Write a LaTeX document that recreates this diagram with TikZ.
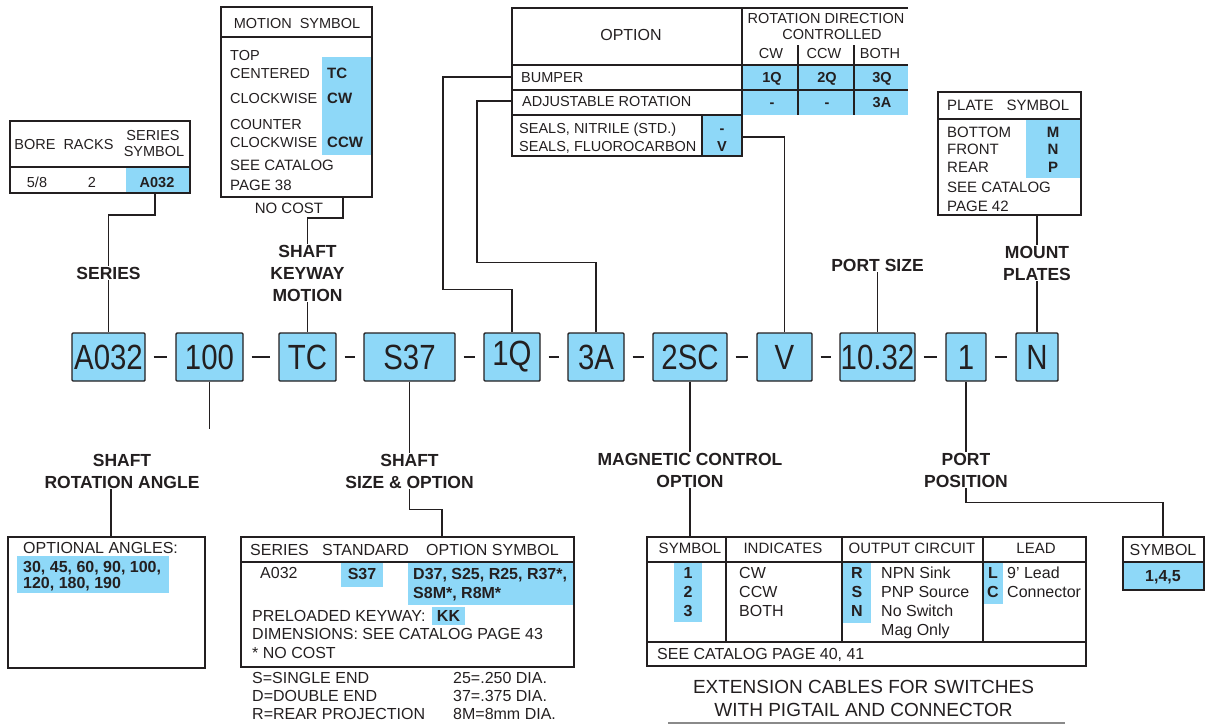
\documentclass[tikz,border=0pt]{standalone}
\usepackage{fontspec}
\setmainfont{Liberation Sans}
\newfontfamily\narrowfont{Liberation Sans}[FakeStretch=0.84]
\usetikzlibrary{positioning,calc}
\definecolor{ink}{HTML}{231F20}
\definecolor{sky}{HTML}{8ED8F8}
\definecolor{rulegray}{HTML}{8A8A8A}
\tikzset{codebox/.style={draw=ink,fill=sky,line width=1.4pt,rounded corners=1pt,inner sep=0pt,minimum height=48pt,text=ink,font=\narrowfont\fontsize{35}{35}\selectfont},
  joiner/.style={draw=ink,line width=1.6pt,shorten <=8pt,shorten >=8pt},
  leader/.style={draw=ink,line width=1.1pt},
  tabframe/.style={draw=ink,line width=1.3pt},
  partlabel/.style={text=ink,align=center,inner sep=1pt,font=\bfseries\fontsize{17.5}{22}\selectfont},
  t14/.style={text=ink,inner sep=0pt,text height=10pt,text depth=0pt,font=\fontsize{14.5}{17}\selectfont},
  b14/.style={t14,font=\bfseries\fontsize{14.5}{17}\selectfont},
  t15/.style={text=ink,inner sep=0pt,text height=11pt,text depth=0pt,font=\fontsize{15}{18}\selectfont},
  b15/.style={t15,font=\bfseries\fontsize{15}{18}\selectfont},
  t16/.style={text=ink,inner sep=0pt,text height=11.5pt,text depth=0pt,font=\fontsize{16}{19}\selectfont},
  b16/.style={t16,font=\bfseries\fontsize{16}{19}\selectfont}}
\begin{document}
\begin{tikzpicture}[x=1pt,y=-1pt]
\useasboundingbox (0,0) rectangle (1208,724);
% model code
\node[codebox,minimum width=73pt] (kA) at (108.5,357) {A032};
\node[codebox,minimum width=67pt] (k100) at (209.5,357) {100};
\node[codebox,minimum width=57pt] (kTC) at (307.5,357) {TC};
\node[codebox,minimum width=91pt] (kS) at (409.5,357) {S37};
\node[codebox,minimum width=56pt] (k1Q) at (512,357) {1Q};
\node[codebox,minimum width=56pt] (k3A) at (596,357) {3A};
\node[codebox,minimum width=74pt] (k2SC) at (690,357) {2SC};
\node[codebox,minimum width=55pt] (kV) at (784.5,357) {V};
\node[codebox,minimum width=75pt] (kP) at (877.5,357) {10.32};
\node[codebox,minimum width=40pt] (k1) at (966,357) {1};
\node[codebox,minimum width=42pt] (kN) at (1037,357) {N};
\draw[joiner] (kA) -- (k100);
\draw[joiner] (k100) -- (kTC);
\draw[joiner] (kTC) -- (kS);
\draw[joiner] (kS) -- (k1Q);
\draw[joiner] (k1Q) -- (k3A);
\draw[joiner] (k3A) -- (k2SC);
\draw[joiner] (k2SC) -- (kV);
\draw[joiner] (kV) -- (kP);
\draw[joiner] (kP) -- (k1);
\draw[joiner] (k1) -- (kN);
% labels
\node[partlabel] (lSeries) at (108.5,273) {SERIES};
\node[partlabel] (lKey) at (307.5,273) {SHAFT\\KEYWAY\\MOTION};
\node[partlabel] (lPort) at (877.5,265) {PORT SIZE};
\node[partlabel] (lMount) at (1037,263) {MOUNT\\PLATES};
\node[partlabel] (lRot) at (122,471) {SHAFT\\ROTATION ANGLE};
\node[partlabel] (lSize) at (409.5,471) {SHAFT\\SIZE \& OPTION};
\node[partlabel] (lMag) at (690,470) {MAGNETIC CONTROL\\OPTION};
\node[partlabel] (lPos) at (966,470) {PORT\\POSITION};

% series table
\fill[sky] (126,167) rectangle (190,193);
\draw[tabframe] (10,121) rectangle (190,193);
\draw[tabframe] (10,167) -- (190,167);
\node[t14] at (35,144) {BORE};
\node[t14] at (88.5,144) {RACKS};
\node[t14] at (153,135) {SERIES};
\node[t14] at (154,151) {SYMBOL};
\node[t14] at (37,182) {5/8};
\node[t14] at (92,182) {2};
\node[b14] at (157,182) {A032};
\coordinate (serOut) at (155,193);

% motion table
\fill[sky] (322,57) rectangle (372,155);
\draw[tabframe] (221,7) rectangle (372,197);
\draw[tabframe] (221,37) -- (372,37);
\node[t14] at (297,23) {MOTION\hspace{8pt}SYMBOL};
\node[t14,anchor=west] at (230,55) {TOP};
\node[t14,anchor=west] at (230,73) {CENTERED};
\node[t14,anchor=west] at (230,98) {CLOCKWISE};
\node[t14,anchor=west] at (230,124) {COUNTER};
\node[t14,anchor=west] at (230,142) {CLOCKWISE};
\node[t15,anchor=west] at (230,165) {SEE CATALOG};
\node[t15,anchor=west] at (230,185) {PAGE 38};
\node[b15,anchor=west] at (327,73) {TC};
\node[b15,anchor=west] at (327,98) {CW};
\node[b15,anchor=west] at (327,142) {CCW};
\node[t15] at (289,208) {NO COST};
\coordinate (motOut) at (343,197);

% option table
\fill[sky] (742,65) rectangle (908,115);
\fill[sky] (702,115) rectangle (742,156);
\draw[tabframe] (908,8) -- (512,8) -- (512,156) -- (742,156) -- (742,8);
\draw[tabframe] (512,65) -- (908,65);
\draw[tabframe] (512,90) -- (908,90);
\draw[tabframe] (512,115) -- (742,115);
\draw[tabframe] (702,115) -- (702,156);
\draw[tabframe] (798,45) -- (798,115);
\draw[tabframe] (854,45) -- (854,115);
\node[t16] at (631,35) {OPTION};
\node[t14] at (826,18) {ROTATION DIRECTION};
\node[t14] at (832,34) {CONTROLLED};
\node[t14] at (771,53) {CW};
\node[t14] at (824,53) {CCW};
\node[t14] at (880,53) {BOTH};
\node[t14,anchor=west] (bumper) at (521,77) {BUMPER};
\node[t14,anchor=west] (adjust) at (522,101) {ADJUSTABLE ROTATION};
\node[b14] at (772,77) {1Q};
\node[b14] at (827,77) {2Q};
\node[b14] at (882,77) {3Q};
\node[b14] at (772,102) {-};
\node[b14] at (827,102) {-};
\node[b14] at (882,102) {3A};
\node[t14,anchor=west] at (519,128) {SEALS, NITRILE (STD.)};
\node[t14,anchor=west] at (519,146) {SEALS, FLUOROCARBON};
\node[b14] at (722,128) {-};
\node[b14] at (722,146) {V};
\coordinate (bumpIn) at (512,77);
\coordinate (adjIn) at (512,101);
\coordinate (sealOut) at (742,137);

% plate table
\fill[sky] (1026,120) rectangle (1081,178);
\draw[tabframe] (938,92) rectangle (1081,215);
\draw[tabframe] (938,119) -- (1081,119);
\node[t15,anchor=west] at (947,105) {PLATE\hspace{13pt}SYMBOL};
\node[t15,anchor=west] at (947,132) {BOTTOM};
\node[t15,anchor=west] at (947,149) {FRONT};
\node[t15,anchor=west] at (947,167) {REAR};
\node[t15,anchor=west] at (947,187) {SEE CATALOG};
\node[t15,anchor=west] at (947,206) {PAGE 42};
\node[b15] at (1053,132) {M};
\node[b15] at (1053,149) {N};
\node[b15] at (1053,167) {P};
\coordinate (plOut) at (1037,215);

% rotation angle table
\fill[sky] (17,556) rectangle (169,593);
\draw[tabframe] (8,537) rectangle (205,668);
\node[t16,anchor=west] at (23,548) {OPTIONAL ANGLES:};
\node[b16,anchor=west] at (23,567) {30, 45, 60, 90, 100,};
\node[b16,anchor=west] at (23,583) {120, 180, 190};
\coordinate (rotIn) at (111,537);

% shaft size table
\fill[sky] (341,562) rectangle (383,587);
\fill[sky] (408,562) rectangle (573,605);
\fill[sky] (432,607) rectangle (465,625);
\draw[tabframe] (241,537) rectangle (574,667);
\draw[tabframe] (241,562) -- (574,562);
\node[t16,anchor=west] at (250,550) {SERIES};
\node[t16,anchor=west] at (322,550) {STANDARD};
\node[t16,anchor=west] at (426,550) {OPTION SYMBOL};
\node[t16,anchor=west] at (260,573) {A032};
\node[b16] at (362,574) {S37};
\node[b16,anchor=west] at (413,574) {D37, S25, R25, R37*,};
\node[b16,anchor=west] at (413,593) {S8M*, R8M*};
\node[t16,anchor=west] at (252,616) {PRELOADED KEYWAY:};
\node[b16] at (448.5,616) {KK};
\node[t16,anchor=west] at (252,634) {DIMENSIONS: SEE CATALOG PAGE 43};
\node[t16,anchor=west] at (252,653) {* NO COST};
\node[t16,anchor=west] at (252,678) {S=SINGLE END};
\node[t16,anchor=west] at (252,696) {D=DOUBLE END};
\node[t16,anchor=west] at (252,714) {R=REAR PROJECTION};
\node[t16,anchor=west] at (453,678) {25=.250 DIA.};
\node[t16,anchor=west] at (453,696) {37=.375 DIA.};
\node[t16,anchor=west] at (453,714) {8M=8mm DIA.};
\coordinate (sizeIn) at (442,537);

% magnetic control table
\fill[sky] (674,562) rectangle (702,622);
\fill[sky] (843,562) rectangle (871,623);
\fill[sky] (984,562) rectangle (1003,604);
\draw[tabframe] (647,537) rectangle (1086,666);
\draw[tabframe] (647,562) -- (1086,562);
\draw[tabframe] (647,642) -- (1086,642);
\draw[tabframe] (726,537) -- (726,642);
\draw[tabframe] (842,537) -- (842,642);
\draw[tabframe] (983,537) -- (983,642);
\node[t15] at (690,548) {SYMBOL};
\node[t15] at (783,548) {INDICATES};
\node[t15] at (912,548) {OUTPUT CIRCUIT};
\node[t15] at (1036,548) {LEAD};
\node[b16] at (688,573) {1};
\node[b16] at (688,592) {2};
\node[b16] at (688,611) {3};
\node[t16,anchor=west] at (739,573) {CW};
\node[t16,anchor=west] at (739,592) {CCW};
\node[t16,anchor=west] at (739,611) {BOTH};
\node[b16] at (857,573) {R};
\node[b16] at (857,592) {S};
\node[b16] at (857,611) {N};
\node[t16,anchor=west] at (881,573) {NPN Sink};
\node[t16,anchor=west] at (881,592) {PNP Source};
\node[t16,anchor=west] at (881,611) {No Switch};
\node[t16,anchor=west] at (881,630) {Mag Only};
\node[b16] at (993,573) {L};
\node[b16] at (993,592) {C};
\node[t16,anchor=west] at (1007,573) {9' Lead};
\node[t16,anchor=west] at (1007,592) {Connector};
\node[t16,anchor=west] at (657,654) {SEE CATALOG PAGE 40, 41};
\node[text=ink,inner sep=0pt,font=\fontsize{19}{23}\selectfont,align=center] (extnote) at (863.5,698.5) {EXTENSION CABLES FOR SWITCHES\\WITH PIGTAIL AND CONNECTOR};
\draw[rulegray,line width=1.5pt] (668,723) -- (1065,723);
\coordinate (magIn) at (690,537);

% port position table
\fill[sky] (1123,562) rectangle (1204,590);
\draw[tabframe] (1123,537) rectangle (1204,590);
\draw[tabframe] (1123,562) -- (1204,562);
\node[t16] at (1163,550) {SYMBOL};
\node[b16] at (1163,576) {1,4,5};
\coordinate (symIn) at (1163,537);

% leaders above
\draw[leader] (serOut) -- ++(0,22) -| (lSeries.north);
\draw[leader] (lSeries.south) -- (kA.north);
\draw[leader] (motOut) -- ++(0,21) -| (lKey.north);
\draw[leader] (lKey.south) -- (kTC.north);
\draw[leader] (bumpIn) -- ++(-69,0) |- ([yshift=43pt]k1Q.north) -- (k1Q.north);
\draw[leader] (adjIn) -- ++(-35,0) |- ([yshift=70pt]k3A.north) -- (k3A.north);
\draw[leader] (sealOut) -| (kV.north);
\draw[leader] (lPort.south) -- (kP.north);
\draw[leader] (plOut) -- (lMount.north);
\draw[leader] (lMount.south) -- (kN.north);
% leaders below
\draw[leader] (k100.south) -- ++(0,47);
\draw[leader] (rotIn) -- (rotIn |- lRot.south);
\draw[leader] (kS.south) -- (lSize.north);
\draw[leader] (lSize.south) -- ++(0,20) -| (sizeIn);
\draw[leader] (k2SC.south) -- (lMag.north);
\draw[leader] (lMag.south) -- (magIn);
\draw[leader] (k1.south) -- (lPos.north);
\draw[leader] (lPos.south) -- ++(0,14) -| (symIn);
\end{tikzpicture}
\end{document}
